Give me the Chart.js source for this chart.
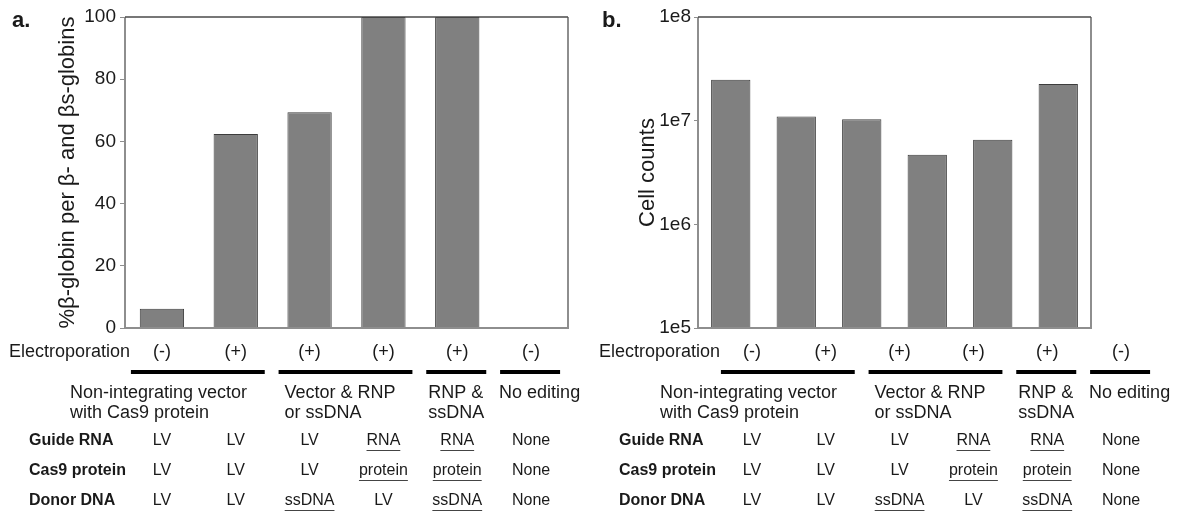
<!DOCTYPE html>
<html>
<head>
<meta charset="utf-8">
<script src="https://cdn.jsdelivr.net/npm/chart.js@4.4.1/dist/chart.umd.min.js"></script>
<style>
  body { margin: 0; background: #fff; }
  #wrap { position: relative; width: 1181px; height: 512px; }
  canvas { position: absolute; top: 0; }
  #panelA { left: 0; }
  #panelB { left: 590px; }
</style>
</head>
<body>
<div id="wrap">
  <canvas id="panelA" width="590" height="512"></canvas>
  <canvas id="panelB" width="591" height="512"></canvas>
</div>
<script>
// conditions, left to right
var conditions = ['LV (-)', 'LV (+)', 'LV + ssDNA', 'RNP + LV donor', 'RNP + ssDNA', 'Mock'];
var electroporation = ['(-)', '(+)', '(+)', '(+)', '(+)', '(-)'];
var guideRNA = ['LV', 'LV', 'LV', 'RNA', 'RNA', 'None'];
var cas9Protein = ['LV', 'LV', 'LV', 'protein', 'protein', 'None'];
var donorDNA = ['LV', 'LV', 'ssDNA', 'LV', 'ssDNA', 'None'];

// groups under the electroporation row
var groupNames = [['Non-integrating vector', 'with Cas9 protein'], ['Vector & RNP', 'or ssDNA'], ['RNP &', 'ssDNA'], ['No editing']];
var groupFirst = [0, 2, 4, 5];
var groupLast = [1, 3, 4, 5];

// values
var betaGlobin = [6.2, 62.4, 69.4, 100, 100, 0];
var cellCounts = [2.48e7, 1.10e7, 1.03e7, 4.68e6, 6.53e6, 2.26e7];
var percentTicks = [0, 20, 40, 60, 80, 100];
var countTicks = [1e5, 1e6, 1e7, 1e8];

var FONT = "'Liberation Sans', Arial, sans-serif";
var INK = '#1a1a1a';
Chart.defaults.font.family = FONT;
Chart.defaults.color = INK;

// box round the plot: grey sides, darker top
var framePlugin = {
    id: 'frame',
    afterDatasetsDraw: function (chart) {
        var a = chart.chartArea, ctx = chart.ctx;
        ctx.save();
        ctx.strokeStyle = '#8e8e8e';
        ctx.lineWidth = 2;
        ctx.beginPath();
        ctx.moveTo(a.left, a.top);
        ctx.lineTo(a.left, a.bottom);
        ctx.lineTo(a.right, a.bottom);
        ctx.lineTo(a.right, a.top);
        ctx.stroke();
        ctx.strokeStyle = '#4a4a4a';
        ctx.lineWidth = 1.5;
        ctx.beginPath();
        ctx.moveTo(a.left, a.top);
        ctx.lineTo(a.right, a.top);
        ctx.stroke();
        ctx.restore();
    }
};

// offsets of the group captions from the start of their bar
var groupTextShift = [-61, 6, 2, -1];

function drawTable(chart, cols, panelLabel) {
    var ctx = chart.ctx;
    ctx.save();
    ctx.fillStyle = INK;
    ctx.strokeStyle = INK;
    ctx.textBaseline = 'middle';

    ctx.font = 'bold 22px ' + FONT;
    ctx.textAlign = 'left';
    ctx.fillText(panelLabel, 12, 21);

    // electroporation row
    ctx.font = '18px ' + FONT;
    ctx.fillText('Electroporation', 9, 352);
    ctx.textAlign = 'center';
    electroporation.forEach(function (t, i) { ctx.fillText(t, cols[i], 352); });

    // group bars and captions
    ctx.lineWidth = 4;
    ctx.strokeStyle = '#000';
    groupNames.forEach(function (lines, g) {
        var x0 = cols[groupFirst[g]] - 31, x1 = cols[groupLast[g]] + 29;
        ctx.beginPath();
        ctx.moveTo(x0, 372);
        ctx.lineTo(x1, 372);
        ctx.stroke();
        ctx.textAlign = 'left';
        lines.forEach(function (l, k) { ctx.fillText(l, x0 + groupTextShift[g], 393 + k * 20); });
    });

    // component rows
    var rows = [['Guide RNA', guideRNA], ['Cas9 protein', cas9Protein], ['Donor DNA', donorDNA]];
    ctx.lineWidth = 1;
    ctx.strokeStyle = '#444';
    rows.forEach(function (r, k) {
        var y = 441 + k * 30;
        ctx.font = 'bold 16px ' + FONT;
        ctx.textAlign = 'left';
        ctx.fillText(r[0], 29, y);
        ctx.font = '16px ' + FONT;
        ctx.textAlign = 'center';
        r[1].forEach(function (v, i) {
            ctx.fillText(v, cols[i], y);
            if (v !== 'LV' && v !== 'None') {
                var w = ctx.measureText(v).width;
                ctx.beginPath();
                ctx.moveTo(cols[i] - w / 2, y + 9.5);
                ctx.lineTo(cols[i] + w / 2, y + 9.5);
                ctx.stroke();
            }
        });
    });
    ctx.restore();
}

var chartA = null;
function columnsOf(chart) {
    var x = chart.scales.x;
    return conditions.map(function (c, i) { return x.getPixelForValue(i); });
}

function barDataset(values) {
    return {
        data: values,
        backgroundColor: '#808080',
        borderColor: '#3c3c3c',
        borderWidth: 1,
        barPercentage: 0.6,
        categoryPercentage: 1
    };
}

chartA = new Chart(document.getElementById('panelA'), {
    type: 'bar',
    data: { labels: conditions, datasets: [barDataset(betaGlobin)] },
    options: {
        responsive: false,
        animation: false,
        devicePixelRatio: 1,
        layout: { padding: { top: 17, right: 22, bottom: 184, left: 0 } },
        plugins: { legend: { display: false }, tooltip: { enabled: false } },
        scales: {
            x: { display: false },
            y: {
                min: 0,
                max: 100,
                afterFit: function (s) { s.width = 125; },
                afterBuildTicks: function (s) { s.ticks = percentTicks.map(function (v) { return { value: v }; }); },
                ticks: { font: { size: 19 }, padding: 4, color: INK },
                grid: { drawOnChartArea: false, tickLength: 5, color: '#8e8e8e' },
                border: { display: false },
                title: {
                    display: true,
                    text: '%β-globin per β- and βs-globins',
                    font: { size: 22 },
                    color: INK,
                    padding: { top: 55, bottom: 0 }
                }
            }
        }
    },
    plugins: [framePlugin, {
        id: 'tableA',
        afterDraw: function (chart) { drawTable(chart, columnsOf(chart), 'a.'); }
    }]
});

new Chart(document.getElementById('panelB'), {
    type: 'bar',
    data: { labels: conditions, datasets: [barDataset(cellCounts)] },
    options: {
        responsive: false,
        animation: false,
        devicePixelRatio: 1,
        layout: { padding: { top: 17, right: 90, bottom: 184, left: 0 } },
        plugins: { legend: { display: false }, tooltip: { enabled: false } },
        scales: {
            x: { display: false },
            y: {
                type: 'logarithmic',
                min: 1e5,
                max: 1e8,
                afterFit: function (s) { s.width = 108; },
                afterBuildTicks: function (s) { s.ticks = countTicks.map(function (v) { return { value: v }; }); },
                ticks: {
                    font: { size: 19 },
                    padding: 3,
                    color: INK,
                    callback: function (v) { return '1e' + Math.round(Math.log10(v)); }
                },
                grid: { drawOnChartArea: false, tickLength: 4, color: '#8e8e8e' },
                border: { display: false },
                title: {
                    display: true,
                    text: 'Cell counts',
                    font: { size: 22 },
                    color: INK,
                    padding: { top: 45, bottom: 0 }
                }
            }
        }
    },
    // the component table is laid out on the same columns as panel a
    plugins: [framePlugin, {
        id: 'tableB',
        afterDraw: function (chart) { drawTable(chart, columnsOf(chartA), 'b.'); }
    }]
});
</script>
</body>
</html>
